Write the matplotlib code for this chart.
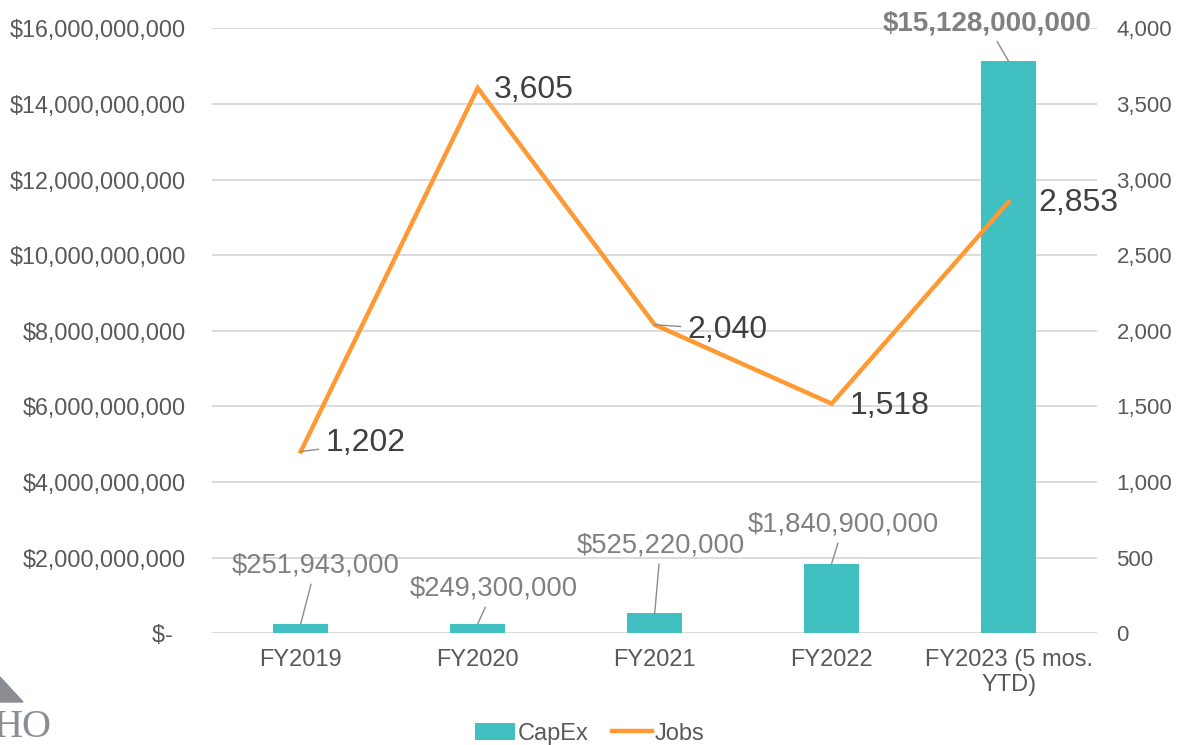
import matplotlib.pyplot as plt
from matplotlib.patches import Polygon
from matplotlib.ticker import FuncFormatter
import numpy as np

plt.rcParams['font.family'] = ['Liberation Sans', 'DejaVu Sans']

categories = ["FY2019", "FY2020", "FY2021", "FY2022", "FY2023 (5 mos.\nYTD)"]
capex = [251943000, 249300000, 525220000, 1840900000, 15128000000]
jobs = [1202, 3605, 2040, 1518, 2853]
capex_labels = ["$251,943,000", "$249,300,000", "$525,220,000", "$1,840,900,000", "$15,128,000,000"]
jobs_labels = ["1,202", "3,605", "2,040", "1,518", "2,853"]

teal = "#40C0C0"
orange = "#FF9933"
grid_c = "#D9D9D9"
tick_c = "#595959"

fig = plt.figure(figsize=(11.86, 7.45), dpi=100)
ax = fig.add_axes([0.179, 0.150, 0.746, 0.812])
ax2 = ax.twinx()

x = np.arange(len(categories))
bars = ax.bar(x, capex, width=0.31, color=teal, label="CapEx", zorder=2)
line, = ax2.plot(x, jobs, color=orange, lw=3.2, label="Jobs", zorder=3,
                 solid_joinstyle='miter')

ax.set_xlim(-0.5, len(categories) - 0.5)
ax.set_ylim(0, 16e9)
ax2.set_ylim(0, 4000)
ax.set_yticks(np.arange(0, 16e9 + 1, 2e9))
ax2.set_yticks(np.arange(0, 4001, 500))


def money(v, pos):
    if v == 0:
        return "$-  "
    return "${:,.0f}".format(v)


ax.yaxis.set_major_formatter(FuncFormatter(money))
ax2.yaxis.set_major_formatter(FuncFormatter(lambda v, p: "{:,.0f}".format(v)))

ax.set_xticks(x)
ax.set_xticklabels(categories)
ax.grid(axis='y', color=grid_c, lw=1.3, zorder=0)
ax.set_axisbelow(True)
for a in (ax, ax2):
    for s in a.spines.values():
        s.set_visible(False)
    a.tick_params(length=0, colors=tick_c, labelsize=16)
ax.tick_params(axis='y', pad=19, labelsize=16.8)
ax2.tick_params(axis='y', pad=14)
ax.tick_params(axis='x', pad=11, labelsize=17)
ax.set_zorder(ax2.get_zorder() - 1)
ax.patch.set_visible(False)
ax2.patch.set_visible(False)

# bar labels (offsets in pixels)
bar_off = [(15, 58), (16, 35), (6, 68), (12, 39), (-22, 38)]
for i in range(len(capex)):
    bold = i == len(capex) - 1
    ax.annotate(capex_labels[i], xy=(x[i], capex[i]), xytext=bar_off[i],
                textcoords='offset pixels', ha='center', va='center',
                fontsize=20 if bold else 19.7, color="#808080",
                fontweight='bold' if bold else 'normal', zorder=5,
                arrowprops=dict(arrowstyle='-', color="#8C8C8C", lw=1,
                                shrinkA=2, shrinkB=0))

# line labels
job_off = [(25, 8), (16, -2), (33, -5), (18, -2), (30, -1)]
leader = [True, False, True, False, False]
for i in range(len(jobs)):
    kw = {}
    if leader[i]:
        kw['arrowprops'] = dict(arrowstyle='-', color="#8C8C8C", lw=1,
                                shrinkA=3, shrinkB=0)
    ax2.annotate(jobs_labels[i], xy=(x[i], jobs[i]), xytext=job_off[i],
                 textcoords='offset pixels', ha='left', va='center',
                 fontsize=23, color="#404040", zorder=6, **kw)

fig.legend(handles=[bars, line], labels=["CapEx", "Jobs"], loc='lower center',
           bbox_to_anchor=(0.497, -0.028), ncol=2, frameon=False, fontsize=17,
           labelcolor=tick_c, handlelength=1.7, handletextpad=0.1,
           columnspacing=1.0)

# partial logo at bottom-left
tri = Polygon([[0, 1 - 677 / 745], [23 / 1186, 1 - 702 / 745], [0, 1 - 702 / 745]],
              closed=True, color="#8A8D91", transform=fig.transFigure)
fig.patches.append(tri)
fig.text(52 / 1186, 1 - 737 / 745, "HO", ha='right', va='baseline',
         fontsize=29, color="#8A8D91", family='Liberation Serif')

fig.savefig("out.png", dpi=100)
